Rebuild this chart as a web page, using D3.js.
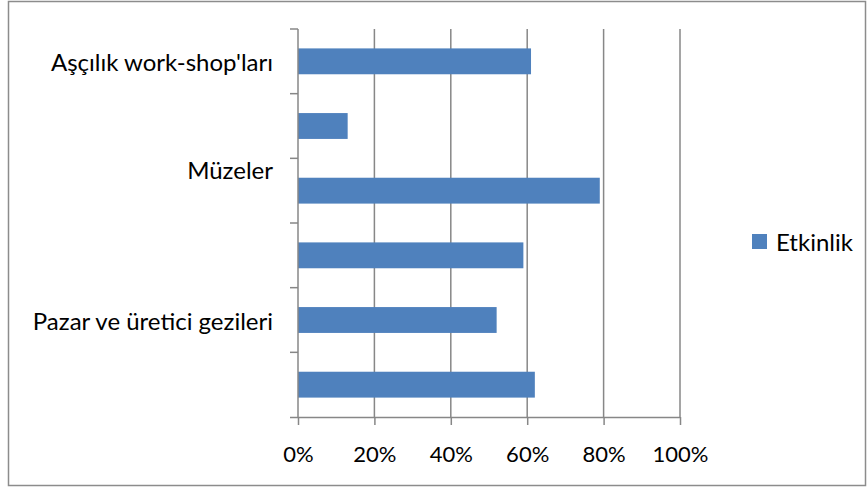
<!DOCTYPE html>
<html><head><meta charset="utf-8">
<script src="https://cdn.jsdelivr.net/npm/d3@7"></script>
<style>
html,body{margin:0;padding:0;background:#fff;}
svg{display:block;font-family:Lato, "Open Sans", sans-serif;}
</style></head>
<body>
<svg id="chart" width="868" height="489"></svg>
<script>
// ---- data ----
const categoryLabels = ["Aşçılık work-shop'ları", "", "Müzeler", "", "Pazar ve üretici gezileri", ""];
const values = [0.61, 0.13, 0.79, 0.59, 0.52, 0.62];
const seriesName = "Etkinlik";
const xTicks = [0, 0.2, 0.4, 0.6, 0.8, 1.0];
const xTickLabels = ["0%", "20%", "40%", "60%", "80%", "100%"];

const svg = d3.select("#chart");
const pLeft = 298, pRight = 680, pTop = 29, pBottom = 417;
const gridColor = "#878787";
const barColor = "#4F81BD";
const tickFont = 22;
const labelFont = 24;

// outer border
svg.append("rect").attr("x", 8.5).attr("y", 1.5).attr("width", 857).attr("height", 484)
  .attr("fill", "#fff").attr("stroke", "#8c8c8c").attr("stroke-width", 1.5);

const x = d3.scaleLinear().domain([0, 1]).range([pLeft, pRight]);
const idx = d3.range(values.length);
const y = d3.scaleBand().domain(idx).range([pTop, pBottom]).paddingInner(0.6).paddingOuter(0.3);

// vertical gridlines
svg.append("g").selectAll("line").data(xTicks.slice(1)).join("line")
  .attr("x1", d => x(d)).attr("x2", d => x(d))
  .attr("y1", pTop).attr("y2", pBottom)
  .attr("stroke", gridColor).attr("stroke-width", 1.5);

// bars
svg.append("g").selectAll("rect").data(values).join("rect")
  .attr("x", x(0)).attr("y", (d, i) => y(i))
  .attr("width", d => x(d) - x(0)).attr("height", y.bandwidth())
  .attr("fill", barColor);

// x axis
const xAxis = d3.axisBottom(x).tickValues(xTicks)
  .tickFormat((d, i) => xTickLabels[i]).tickSize(8).tickPadding(21).tickSizeOuter(0);
const gx = svg.append("g").attr("transform", `translate(0,${pBottom})`).call(xAxis);
gx.select(".domain").attr("stroke", gridColor).attr("stroke-width", 1.5)
  .attr("d", `M${pLeft - 8},0.5H${pRight}`);
gx.selectAll(".tick line").attr("stroke", gridColor).attr("stroke-width", 1.5);
gx.selectAll(".tick text").attr("fill", "#000").attr("font-size", tickFont)
  .attr("font-family", "Lato, 'Open Sans', sans-serif");

// y axis: line + boundary ticks
const step = y.step();
const boundaries = d3.range(values.length + 1).map(i => pTop + i * step);
svg.append("line").attr("x1", pLeft).attr("x2", pLeft).attr("y1", pTop).attr("y2", pBottom)
  .attr("stroke", gridColor).attr("stroke-width", 1.5);
svg.append("g").selectAll("line").data(boundaries.slice(0, -1)).join("line")
  .attr("x1", pLeft - 8).attr("x2", pLeft).attr("y1", d => d).attr("y2", d => d)
  .attr("stroke", gridColor).attr("stroke-width", 1.5);

// y labels via axis
const yAxis = d3.axisLeft(y).tickFormat(i => categoryLabels[i]).tickSize(0).tickPadding(25);
const gy = svg.append("g").attr("transform", `translate(${pLeft},0)`).call(yAxis);
gy.select(".domain").remove();
gy.selectAll(".tick text").attr("fill", "#000").attr("font-size", labelFont)
  .attr("font-family", "Lato, 'Open Sans', sans-serif")
  .attr("dy", (i) => i === 2 ? "-0.49em" : "0.4em");

// legend
const lg = svg.append("g").attr("transform", "translate(752,234)");
lg.append("rect").attr("width", 15).attr("height", 15).attr("fill", barColor);
lg.append("text").attr("x", 24).attr("y", 17)
  .attr("font-size", labelFont).attr("fill", "#000").text(seriesName);
</script>
</body></html>
